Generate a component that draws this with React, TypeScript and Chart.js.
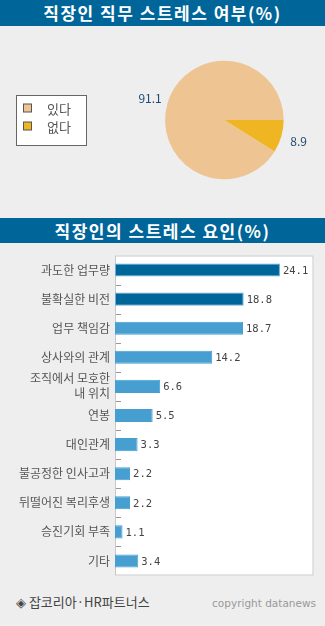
import React, { useEffect, useRef } from "react";
import { Chart, registerables } from "chart.js";

Chart.register(...registerables);

const pieTitle = "직장인 직무 스트레스 여부(%)";
const pieLabels = ["있다", "없다"];
const pieValues = [91.1, 8.9];
const pieColors = ["#EEC592", "#EFB522"];

const barTitle = "직장인의 스트레스 요인(%)";
const barLabels: (string | string[])[] = [
  "과도한 업무량",
  "불확실한 비전",
  "업무 책임감",
  "상사와의 관계",
  ["조직에서 모호한", "내 위치"],
  "연봉",
  "대인관계",
  "불공정한 인사고과",
  "뒤떨어진 복리후생",
  "승진기회 부족",
  "기타",
];
const barValues = [24.1, 18.8, 18.7, 14.2, 6.6, 5.5, 3.3, 2.2, 2.2, 1.1, 3.4];
const barColors = ["#006699", "#006699", "#469FD0", "#469FD0", "#469FD0", "#469FD0", "#469FD0", "#469FD0", "#469FD0", "#469FD0", "#469FD0"];
const barBorders = ["#6AAED6", "#6AAED6", "#469FD0", "#469FD0", "#469FD0", "#469FD0", "#469FD0", "#469FD0", "#469FD0", "#469FD0", "#469FD0"];

const source = "◈ 잡코리아·HR파트너스";
const copyright = "copyright datanews";

const KR = '"Noto Sans CJK KR", "Noto Sans", sans-serif';

export default function App() {
  const pieRef = useRef<HTMLCanvasElement>(null);
  const barRef = useRef<HTMLCanvasElement>(null);

  useEffect(() => {
    const pieLabelPlugin = {
      id: "pieExtras",
      afterDraw(chart: any) {
        const ctx = chart.ctx;
        const meta = chart.getDatasetMeta(0);
        ctx.save();
        ctx.font = "12px " + KR;
        ctx.fillStyle = "#1E4A72";
        ctx.textBaseline = "middle";
        meta.data.forEach((arc: any, i: number) => {
          const mid = (arc.startAngle + arc.endAngle) / 2;
          const r = arc.outerRadius + 18;
          const x = arc.x + Math.cos(mid) * r;
          const y = arc.y + Math.sin(mid) * r;
          ctx.textAlign = "center";
          ctx.fillText(String(pieValues[i]), x, y);
        });
        const bx = 16.5, by = 69.5, bw = 70, bh = 50;
        ctx.fillStyle = "#ffffff";
        ctx.fillRect(bx, by, bw, bh);
        ctx.strokeStyle = "#666666";
        ctx.lineWidth = 1;
        ctx.strokeRect(bx, by, bw, bh);
        pieLabels.forEach((lab, i) => {
          const yy = 82 + i * 18;
          ctx.fillStyle = pieColors[i];
          ctx.fillRect(23.5, yy - 4, 8, 8);
          ctx.strokeStyle = "#555555";
          ctx.strokeRect(23.5, yy - 4, 8, 8);
          ctx.fillStyle = "#555555";
          ctx.font = "13px " + KR;
          ctx.textAlign = "left";
          ctx.fillText(lab, 47, yy + 1);
        });
        ctx.restore();
      },
    };

    const pie = new Chart(pieRef.current!, {
      type: "pie",
      data: {
        labels: pieLabels,
        datasets: [
          {
            data: pieValues,
            backgroundColor: pieColors,
            borderWidth: 0,
          },
        ],
      },
      options: {
        responsive: false,
        animation: false,
        rotation: 90 + pieValues[1] * 3.6,
        layout: { padding: { left: 165, right: 41.3, top: 34.7, bottom: 38.7 } },
        plugins: { legend: { display: false }, tooltip: { enabled: false } },
      },
      plugins: [pieLabelPlugin],
    });

    const barPlugin = {
      id: "barExtras",
      beforeDraw(chart: any) {
        const { ctx, chartArea } = chart;
        ctx.save();
        ctx.fillStyle = "#ffffff";
        ctx.fillRect(chartArea.left, chartArea.top, chartArea.right - chartArea.left, chartArea.bottom - chartArea.top);
        ctx.strokeStyle = "#C8C8C8";
        ctx.lineWidth = 1;
        ctx.strokeRect(chartArea.left + 0.5, chartArea.top + 0.5, chartArea.right - chartArea.left - 1, chartArea.bottom - chartArea.top - 1);
        const y = chart.scales.y;
        ctx.strokeStyle = "#999999";
        for (let i = 0; i < barValues.length - 1; i++) {
          const py = Math.round((y.getPixelForValue(i) + y.getPixelForValue(i + 1)) / 2) + 0.5;
          ctx.beginPath();
          ctx.moveTo(chartArea.left + 1, py);
          ctx.lineTo(chartArea.left + 6, py);
          ctx.stroke();
        }
        ctx.restore();
      },
      afterDatasetsDraw(chart: any) {
        const ctx = chart.ctx;
        const meta = chart.getDatasetMeta(0);
        ctx.save();
        ctx.font = '10.5px "DejaVu Sans Mono", monospace';
        ctx.fillStyle = "#444444";
        ctx.textBaseline = "middle";
        ctx.textAlign = "left";
        meta.data.forEach((bar: any, i: number) => {
          ctx.fillText(barValues[i].toFixed(1), bar.x + 3, bar.y + 1);
        });
        ctx.restore();
      },
    };

    const bar = new Chart(barRef.current!, {
      type: "bar",
      data: {
        labels: barLabels,
        datasets: [
          {
            data: barValues,
            backgroundColor: barColors,
            borderColor: barBorders,
            borderWidth: 1,
            borderSkipped: false,
            barPercentage: 0.45,
            categoryPercentage: 1,
          },
        ],
      },
      options: {
        indexAxis: "y",
        responsive: false,
        animation: false,
        layout: { padding: { left: 0, right: 11.5, top: 9, bottom: 6 } },
        scales: {
          x: { display: false, min: 0, max: 29 },
          y: {
            afterFit(scale: any) {
              scale.width = 115;
            },
            grid: { display: false, drawTicks: false },
            border: { display: false },
            ticks: {
              autoSkip: false,
              padding: 5,
              color: "#555555",
              font: { family: "Noto Sans CJK KR", size: 12, lineHeight: 1.25 },
            },
          },
        },
        plugins: { legend: { display: false }, tooltip: { enabled: false } },
      },
      plugins: [barPlugin],
    });

    return () => {
      pie.destroy();
      bar.destroy();
    };
  }, []);

  const titleStyle: React.CSSProperties = {
    position: "absolute",
    left: 0,
    width: 325,
    background: "#006699",
    color: "#ffffff",
    fontFamily: KR,
    fontWeight: "bold",
    fontSize: 17,
    textAlign: "center",
    letterSpacing: 1.5,
  };

  return (
    <div style={{ position: "absolute", top: 0, left: 0, width: 325, height: 626, background: "#EEEEEE", overflow: "hidden" }}>
      <div style={{ ...titleStyle, top: 0, height: 26, lineHeight: "26px" }}>{pieTitle}</div>
      <canvas ref={pieRef} width={325} height={192} style={{ position: "absolute", top: 26, left: 0 }} />
      <div style={{ ...titleStyle, top: 218, height: 25, lineHeight: "25px" }}>{barTitle}</div>
      <canvas ref={barRef} width={325} height={345} style={{ position: "absolute", top: 243, left: 0 }} />
      <div style={{ position: "absolute", left: 16, top: 594, fontFamily: KR, fontSize: 13, color: "#444444", lineHeight: "16px" }}>{source}</div>
      <div style={{ position: "absolute", right: 9, top: 596, fontFamily: '"DejaVu Sans", sans-serif', fontSize: 10.5, color: "#999999", lineHeight: "14px" }}>{copyright}</div>
    </div>
  );
}
